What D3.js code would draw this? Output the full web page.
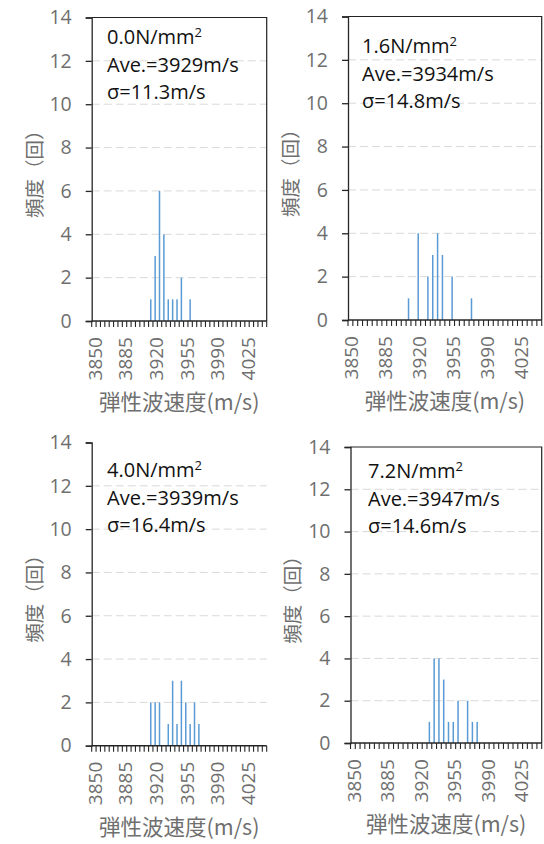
<!DOCTYPE html>
<html>
<head>
<meta charset="utf-8">
<script src="https://cdn.jsdelivr.net/npm/d3@7"></script>
<style>
  html, body { margin: 0; padding: 0; background: #fff; }
  svg { display: block; }
</style>
</head>
<body>
<svg id="chart" width="544" height="844"></svg>
<script>
// ---------------- data ----------------
const categories = [3850,3855,3860,3865,3870,3875,3880,3885,3890,3895,
                    3900,3905,3910,3915,3920,3925,3930,3935,3940,3945,
                    3950,3955,3960,3965,3970,3975,3980,3985,3990,3995,
                    4000,4005,4010,4015,4020,4025,4030,4035,4040,4045];
const tickLabels = ["3850","3885","3920","3955","3990","4025"];
const yTicks = [0,2,4,6,8,10,12,14];

const stress   = ["0.0","1.6","4.0","7.2"];
const averages = [3929, 3934, 3939, 3947];
const sigmas   = ["11.3","14.8","16.4","14.6"];

const counts00 = [0,0,0,0,0,0,0,0,0,0, 0,0,0,1,3,6,4,1,1,1, 2,0,1,0,0,0,0,0,0,0, 0,0,0,0,0,0,0,0,0,0];
const counts16 = [0,0,0,0,0,0,0,0,0,0, 0,0,1,0,4,0,2,3,4,3, 0,2,0,0,0,1,0,0,0,0, 0,0,0,0,0,0,0,0,0,0];
const counts40 = [0,0,0,0,0,0,0,0,0,0, 0,0,0,2,2,2,0,1,3,1, 3,2,1,2,1,0,0,0,0,0, 0,0,0,0,0,0,0,0,0,0];
const counts72 = [0,0,0,0,0,0,0,0,0,0, 0,0,0,0,0,0,1,4,4,3, 1,1,2,0,2,1,1,0,0,0, 0,0,0,0,0,0,0,0,0,0];
const seriesList = [counts00, counts16, counts40, counts72];

const yTitle = "頻度（回）";
const xTitle = "弾性波速度(m/s)";

// ---------------- layout ----------------
const layout = [
  {left: 91.7,  right: 266.7, top: 17.5,  bottom: 321,   frame: true,  tx: 107, ty: 44},
  {left: 348,   right: 541.7, top: 16.5,  bottom: 320,   frame: true,  tx: 362, ty: 53},
  {left: 91.7,  right: 266.7, top: 442.5, bottom: 745.7, frame: false, tx: 107, ty: 477},
  {left: 350.5, right: 541.7, top: 447,   bottom: 743,   frame: true,  tx: 368, ty: 478}
];

const numFont = "'Open Sans', 'Noto Sans', sans-serif";
const cjkFont = "'Noto Sans CJK JP', 'Noto Sans', sans-serif";
const grey = "#6f6f6f";
const axisColor = "#262626";
const barColor = "#5b9bd5";

const svg = d3.select("#chart");

layout.forEach((L, i) => {
  const g = svg.append("g");
  const data = seriesList[i];

  const x = d3.scaleBand().domain(categories).range([L.left, L.right]);
  const y = d3.scaleLinear().domain([0, 14]).range([L.bottom, L.top]);

  // gridlines
  g.append("g").selectAll("line")
    .data(yTicks.filter(t => t > 0 && t < 14))
    .join("line")
    .attr("x1", L.left).attr("x2", L.right)
    .attr("y1", d => y(d)).attr("y2", d => y(d))
    .attr("stroke", "#d9d9d9").attr("stroke-width", 1)
    .attr("stroke-dasharray", "8,4");

  // frame (top and right)
  if (L.frame) {
    g.append("path")
      .attr("d", `M${L.left},${y(14)}H${L.right}V${L.bottom}`)
      .attr("fill", "none").attr("stroke", "#222").attr("stroke-width", 1.2);
  }

  // bars
  g.append("g").selectAll("rect")
    .data(categories.map((c, k) => ({c, v: data[k]})).filter(d => d.v > 0))
    .join("rect")
    .attr("x", d => x(d.c) + x.bandwidth() / 2 - 0.75)
    .attr("width", 1.5)
    .attr("y", d => y(d.v))
    .attr("height", d => y(0) - y(d.v))
    .attr("fill", barColor);

  // y axis
  const yAxis = d3.axisLeft(y).tickValues(yTicks).tickSize(6).tickPadding(14)
    .tickFormat(d3.format("d"));
  const ya = g.append("g").attr("transform", `translate(${L.left},0)`).call(yAxis);
  ya.select(".domain").attr("stroke", axisColor).attr("stroke-width", 1.3);
  ya.selectAll(".tick line").attr("stroke", axisColor).attr("stroke-width", 1.3);
  ya.selectAll(".tick text").attr("fill", grey)
    .style("font-family", numFont).style("font-size", "19.5px");

  // x axis (minor tick at each category boundary)
  const xa = g.append("g");
  xa.append("line")
    .attr("x1", L.left).attr("x2", L.right)
    .attr("y1", L.bottom).attr("y2", L.bottom)
    .attr("stroke", axisColor).attr("stroke-width", 1.6);
  const bounds = categories.map(c => x(c)).concat([L.right]);
  xa.selectAll("line.mt").data(bounds).join("line").attr("class", "mt")
    .attr("x1", d => d).attr("x2", d => d)
    .attr("y1", L.bottom).attr("y2", L.bottom + 6)
    .attr("stroke", axisColor).attr("stroke-width", 1.1);

  // x tick labels (rotated)
  xa.selectAll("text.xl").data(tickLabels).join("text").attr("class", "xl")
    .attr("transform", d => `translate(${x(+d) + x.bandwidth() / 2 + 1},${L.bottom + 16}) rotate(-90)`)
    .attr("text-anchor", "end")
    .attr("dy", "0.36em")
    .attr("fill", grey)
    .style("font-family", numFont).style("font-size", "19px")
    .text(d => d);

  // axis titles
  g.append("text")
    .attr("transform", `translate(${L.left - 57},${(L.top + L.bottom) / 2}) rotate(-90)`)
    .attr("text-anchor", "middle").attr("dy", "0.35em")
    .attr("fill", grey)
    .style("font-family", cjkFont).style("font-size", "19.5px")
    .text(yTitle);

  g.append("text")
    .attr("x", (L.left + L.right) / 2)
    .attr("y", L.bottom + 89)
    .attr("text-anchor", "middle")
    .attr("fill", grey)
    .style("font-family", cjkFont).style("font-size", "21.5px")
    .text(xTitle);

  // annotation
  const ann = g.append("text")
    .attr("x", L.tx).attr("y", L.ty)
    .attr("fill", "#111")
    .style("font-family", numFont).style("font-size", "20px");
  const l1 = ann.append("tspan").attr("x", L.tx).attr("y", L.ty);
  l1.append("tspan").text(stress[i] + "N/mm");
  l1.append("tspan").attr("dy", -7).style("font-size", "13px").text("2");
  ann.append("tspan").attr("x", L.tx).attr("y", L.ty + 27.5).text("Ave.=" + averages[i] + "m/s");
  ann.append("tspan").attr("x", L.tx).attr("y", L.ty + 55).text("σ=" + sigmas[i] + "m/s");
});
</script>
</body>
</html>
